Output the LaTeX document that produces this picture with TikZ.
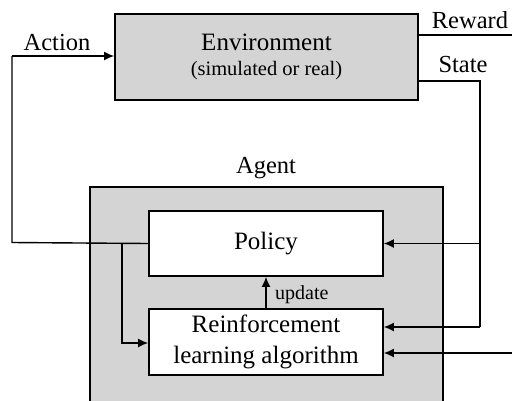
\documentclass[tikz,border=0pt]{standalone}
\usepackage{fontspec}
\setmainfont{Liberation Serif}
\usetikzlibrary{arrows.meta,positioning}

\definecolor{boxgray}{gray}{0.83}
\tikzstyle{block}=[draw, line width=1.7pt, inner sep=0pt, align=center, font=\fontsize{25}{32}\selectfont]
\tikzstyle{graybox}=[block, fill=boxgray]
\tikzstyle{whitebox}=[block, fill=white, minimum width=234, minimum height=65]
\tikzstyle{wire}=[draw, line width=1.4pt]
\tikzstyle{feed}=[wire, -{Latex[length=10pt,width=9pt]}]
\tikzstyle{lbl}=[inner sep=0pt, font=\fontsize{24.5}{29}\selectfont]

\begin{document}
\begin{tikzpicture}[x=1pt, y=-1pt]
  \clip (0,0) rectangle (512,400);
  \fill[white] (0,0) rectangle (512,400);

  % boxes
  \node[graybox, minimum width=303, minimum height=86] (env) at (266.5,57)
    {Environment\\[-7pt]{\fontsize{20.5}{24}\selectfont (simulated or real)}};
  \node[graybox, minimum width=353, minimum height=226] (agent) at (266.5,300) {};
  \node[whitebox] (policy) at (266,243.5) {Policy};
  \node[whitebox, minimum height=66] (rl) at (266,342) {Reinforcement\\[-1pt]learning algorithm};

  % labels
  \node[lbl] (agentlbl) at (266,168) {Agent};
  \node[lbl] (actlbl) at (57,43) {Action};
  \node[lbl] (rewlbl) at (470,20) {Reward};
  \node[lbl] (statelbl) at (463,65) {State};
  \node[lbl, font=\fontsize{20}{24}\selectfont, anchor=west] (updlbl) at (275,295) {update};

  % corners of the wires
  \coordinate (actbot) at (12,242.5);
  \coordinate (acttop) at (12,56);
  \coordinate (split) at (122,242.5);
  \coordinate (splitbot) at (122,343);
  \coordinate (stout) at (418,81);
  \coordinate (sttop) at (480,81);
  \coordinate (stmid) at (480,243.5);
  \coordinate (stbot) at (480,327);
  \coordinate (rewout) at (418,35);
  \coordinate (rewend) at (512,35);
  \coordinate (rewin) at (512,353);

  % action loop
  \path[wire] (policy.west) -- (actbot) -- (acttop);
  \path[feed] (acttop) -- (acttop -| env.west);
  \path[feed] (split) -- (splitbot) -- (splitbot -| rl.west);

  % state and reward
  \path[wire] (stout) -- (sttop) -- (stbot);
  \path[feed] (stmid) -- (stmid -| policy.east);
  \path[feed] (stbot) -- (stbot -| rl.east);
  \path[wire] (rewout) -- (rewend);
  \path[feed] (rewin) -- (rewin -| rl.east);

  % update
  \path[feed] (rl.north) -- (policy.south);
\end{tikzpicture}
\end{document}
